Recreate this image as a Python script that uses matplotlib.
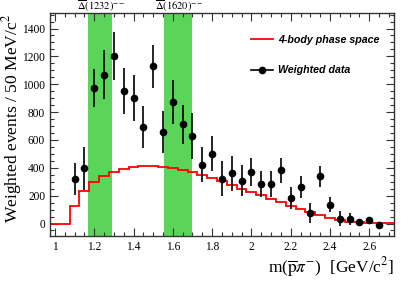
import numpy as np
import matplotlib
matplotlib.use('Agg')
import matplotlib.pyplot as plt
from matplotlib.lines import Line2D
from matplotlib.ticker import MultipleLocator, FormatStrFormatter

# %%
# Data

bin_edges = np.round(np.arange(0.975, 2.726, 0.05), 3)
phase_space = [0, 0, 127, 235, 295, 338, 372, 391, 405, 413, 413, 405, 396, 382,
               367, 346, 324, 302, 274, 247, 225, 202, 178, 153, 129, 105, 81, 62,
               43, 26, 14, 9, 5, 2, 2]

data_x = [1.10, 1.15, 1.20, 1.25, 1.30, 1.35, 1.40, 1.45, 1.50, 1.55, 1.60, 1.65,
          1.70, 1.75, 1.80, 1.85, 1.90, 1.95, 2.00, 2.05, 2.10, 2.15, 2.20, 2.25,
          2.30, 2.35, 2.40, 2.45, 2.50, 2.55, 2.60, 2.65]
data_y = [320, 395, 975, 1068, 1202, 950, 902, 692, 1128, 658, 873, 712,
          630, 423, 500, 322, 360, 307, 370, 286, 286, 382, 183, 262,
          75, 338, 136, 35, 35, 10, 22, -8]
data_err = [112, 155, 135, 175, 173, 165, 165, 153, 156, 153, 156, 140,
            165, 125, 126, 128, 126, 113, 102, 93, 93, 90, 80, 78,
            72, 77, 55, 54, 43, 15, 15, 10]

bands = [(1.17, 1.29), (1.555, 1.70)]
band_labels = [r'$\overline{\Delta}(1232)^{--}$', r'$\overline{\Delta}(1620)^{--}$']

# %%
# Plot

plt.rcParams['mathtext.fontset'] = 'stix'
plt.rcParams['font.family'] = 'Liberation Serif'

fig = plt.figure(figsize=(4.15, 2.81), dpi=100)
ax = fig.add_axes([0.1205, 0.16, 0.8285, 0.793])

for (lo, hi), lab in zip(bands, band_labels):
    ax.axvspan(lo, hi, color='#5ad55a', lw=0, zorder=0)
    ax.text((lo + hi) / 2 + 0.005, 1.012, lab, transform=ax.get_xaxis_transform(),
            ha='center', va='baseline', fontsize=7.6)

ax.stairs(phase_space, bin_edges, color='red', lw=1.3, baseline=None, zorder=2)
ax.errorbar(data_x, data_y, yerr=data_err, fmt='o', color='black', ms=4.5,
            elinewidth=1.2, capsize=0, zorder=3)

ax.set_xlim(0.975, 2.725)
ax.set_ylim(-90, 1510)

ax.xaxis.set_major_locator(MultipleLocator(0.2))
ax.xaxis.set_minor_locator(MultipleLocator(0.05))
ax.xaxis.set_major_formatter(FormatStrFormatter('%g'))
ax.yaxis.set_major_locator(MultipleLocator(200))
ax.yaxis.set_minor_locator(MultipleLocator(50))
ax.tick_params(which='both', direction='in', top=True, right=True, labelsize=8.3,
               color='#333333')
ax.tick_params(which='major', length=6, width=0.8)
ax.tick_params(which='minor', length=3, width=0.8)
for s in ax.spines.values():
    s.set_linewidth(1.0)
    s.set_color('#333333')

ax.set_ylabel(r'Weighted events / 50 MeV/c$^2$', fontsize=12.6)
ax.yaxis.set_label_coords(-0.077, 0.528)
ax.set_xlabel(r'm($\mathrm{\overline{p}}\pi^{-}$)  [GeV/c$^2$]', fontsize=12.5,
              loc='right', labelpad=2)

# legend handles drawn ROOT style: line for the histogram, marker on a line for data
handles = [Line2D([], [], color='red', lw=1.3),
           Line2D([], [], color='black', lw=1.2, marker='o', ms=4.5)]
ax.legend(handles, ['4-body phase space', 'Weighted data'],
          loc='upper right', bbox_to_anchor=(0.98, 0.935), frameon=False,
          prop={'family': 'Liberation Sans', 'weight': 'bold',
                'style': 'italic', 'size': 7.7},
          handlelength=2.0, handletextpad=0.5, labelspacing=1.9, borderaxespad=0.3)

fig.savefig('out.png', dpi=100)
